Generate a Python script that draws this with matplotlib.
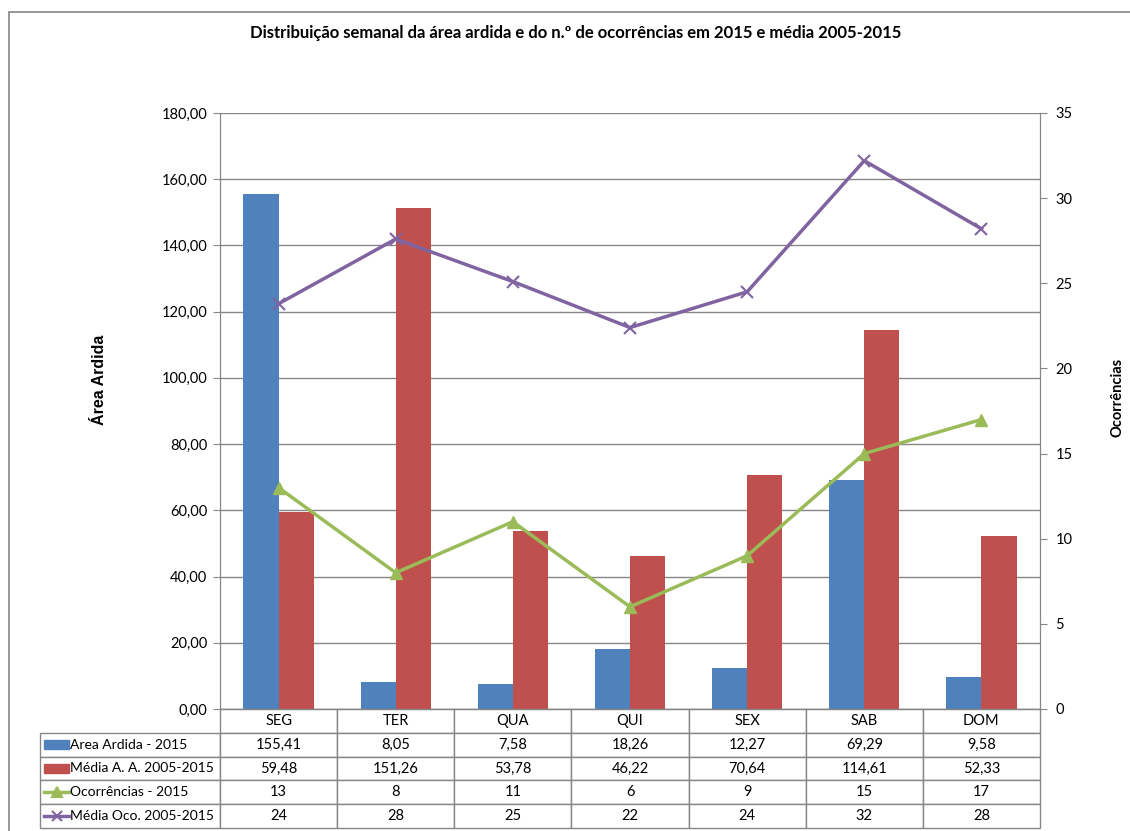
import matplotlib.pyplot as plt
from matplotlib.lines import Line2D
from matplotlib.patches import Rectangle
import numpy as np

plt.rcParams['font.family'] = ['Lato', 'DejaVu Sans']

dias = ['SEG', 'TER', 'QUA', 'QUI', 'SEX', 'SAB', 'DOM']
area_2015 = [155.41, 8.05, 7.58, 18.26, 12.27, 69.29, 9.58]
media_area = [59.48, 151.26, 53.78, 46.22, 70.64, 114.61, 52.33]
ocorr_2015 = [13, 8, 11, 6, 9, 15, 17]
# media de ocorrencias (tabela mostra arredondado)
media_ocorr = [23.8, 27.6, 25.1, 22.4, 24.5, 32.2, 28.2]

series_nomes = ['Area Ardida - 2015', 'Média A. A. 2005-2015',
                'Ocorrências - 2015', 'Média Oco. 2005-2015']

azul = '#4F81BD'
verm = '#C0504D'
verde = '#9BBB59'
roxo = '#8064A2'
cinza = '#868686'

W, H = 1130, 831
fig = plt.figure(figsize=(W / 100, H / 100), dpi=100)
ax = fig.add_axes([220 / W, 1 - 709 / H, 820 / W, 596 / H])
ax2 = ax.twinx()

x = np.arange(len(dias))
bw = 0.3
ax.bar(x - bw / 2, area_2015, bw, color=azul, zorder=3)
ax.bar(x + bw / 2, media_area, bw, color=verm, zorder=3)
ax.set_xlim(-0.5, len(dias) - 0.5)
ax.set_ylim(0, 180)
ax.set_yticks(np.arange(0, 181, 20))
ax.set_yticklabels([f'{v:.2f}'.replace('.', ',') for v in np.arange(0, 181, 20)])
ax.grid(axis='y', color=cinza, lw=1, zorder=0)
ax.set_xticks([])
ax.tick_params(axis='y', labelsize=10.5, length=5, color=cinza, pad=4)

ax2.plot(x, ocorr_2015, color=verde, lw=2.5, marker='^', ms=8, zorder=4)
ax2.plot(x, media_ocorr, color=roxo, lw=2.5, marker='x', ms=8, mew=1.5, zorder=4)
ax2.set_ylim(0, 35)
ax2.set_yticks(np.arange(0, 36, 5))
ax2.tick_params(axis='y', labelsize=10.5, length=5, color=cinza, pad=6)

for a in (ax, ax2):
    for s in a.spines.values():
        s.set_color(cinza)
    a.spines['top'].set_visible(False)

fig.text(576 / W, 1 - 33 / H,
         'Distribuição semanal da área ardida e do n.º de ocorrências em 2015 e média 2005-2015',
         fontsize=12, fontweight='bold', ha='center', va='center')
fig.text(100 / W, 1 - 380 / H, 'Área Ardida', family=['Liberation Sans', 'DejaVu Sans'],
         fontweight='bold', fontsize=11.5, rotation=90, ha='center', va='center')
fig.text(1118 / W, 1 - 397 / H, 'Ocorrências', fontweight='bold', fontsize=10.5,
         rotation=90, ha='center', va='center')

# tabela de dados
linhas = [[f'{v:.2f}'.replace('.', ',') for v in area_2015],
          [f'{v:.2f}'.replace('.', ',') for v in media_area],
          [f'{v:.0f}' for v in ocorr_2015],
          [f'{v:.0f}' for v in media_ocorr]]
celulas = [[''] + dias] + [[''] + l for l in linhas]
left_frac = 180 / 820
th = 119 / 596
tab = ax.table(cellText=celulas, cellLoc='center',
               bbox=[-left_frac, -th, 1 + left_frac, th])
tab.auto_set_font_size(False)
tab.set_fontsize(10.5)
for (r, c), cell in tab.get_celld().items():
    cell.set_edgecolor(cinza)
    cell.set_linewidth(1)
    if c == 0:
        cell.set_width(180)
    else:
        cell.set_width(820 / 7)
    if r == 0 and c == 0:
        cell.visible_edges = ''
tab.set_zorder(5)

# legendas na primeira coluna
rh = th / 5
kx0 = (44 - 220) / 820
kx1 = (69 - 220) / 820
for i, nome in enumerate(series_nomes):
    yc = -th + rh * (3 - i) + rh / 2
    if i < 2:
        ax.add_patch(Rectangle((kx0, yc - 0.008), kx1 - kx0, 0.016,
                               color=[azul, verm][i], transform=ax.transAxes, clip_on=False, zorder=6))
    else:
        ax.add_line(Line2D([kx0, kx1], [yc, yc], color=[verde, roxo][i - 2], lw=2.5,
                           transform=ax.transAxes, clip_on=False, zorder=6))
        ax.add_line(Line2D([(kx0 + kx1) / 2], [yc], color=[verde, roxo][i - 2],
                           marker=['^', 'x'][i - 2], ms=7, mew=1.5,
                           transform=ax.transAxes, clip_on=False, zorder=6))
    ax.text(kx1 + 0.001, yc, nome, transform=ax.transAxes, ha='left', va='center',
            fontsize=10, zorder=6)

# moldura exterior
fig.add_artist(Rectangle((9 / W, -0.1), 1.2, 1 - 12 / H + 0.1, fill=False,
                         edgecolor=cinza, lw=1.2, transform=fig.transFigure))

fig.savefig('out.png', dpi=100)
